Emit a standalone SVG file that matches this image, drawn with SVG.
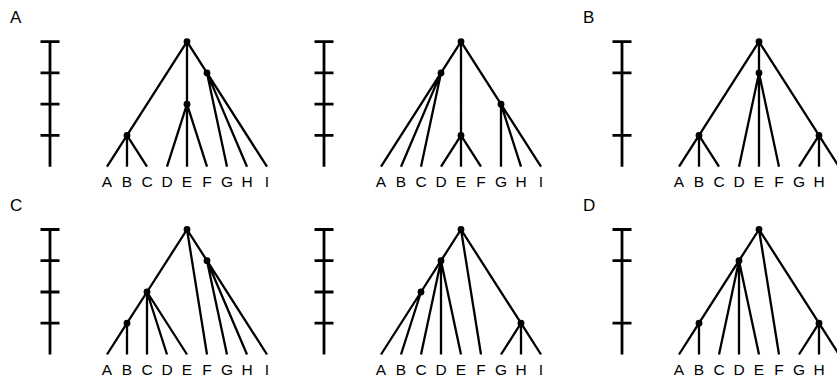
<svg xmlns="http://www.w3.org/2000/svg" width="837" height="381" viewBox="0 0 837 381">
  <style>
    .bar { stroke: #000; stroke-width: 2.8; fill: none; }
    .edge { stroke: #000; stroke-width: 2.3; fill: none; stroke-linecap: butt; }
    .dot { fill: #000; }
    .leaf { font-family: "Liberation Sans", Arial, sans-serif; font-size: 15.5px; fill: #000; text-anchor: middle; }
    .panel-label { font-family: "Liberation Sans", Arial, sans-serif; font-size: 17px; fill: #000; }
  </style>
  <defs>
    <!-- time levels: 41.7, 72.9, 104.2, 135.4, 166.7 ; leaves at x = 107 + 20k -->
    <g id="bar4">
      <path class="bar" d="M50 41.7V166.7M40.5 41.7H59.5M40.5 72.9H59.5M40.5 104.2H59.5M40.5 135.4H59.5"/>
    </g>
    <g id="bar3">
      <path class="bar" d="M50 41.7V166.7M40.5 41.7H59.5M40.5 72.9H59.5M40.5 135.4H59.5"/>
    </g>
    <g id="leaves">
      <text class="leaf" x="107" y="187.3">A</text>
      <text class="leaf" x="127" y="187.3">B</text>
      <text class="leaf" x="147" y="187.3">C</text>
      <text class="leaf" x="167" y="187.3">D</text>
      <text class="leaf" x="187" y="187.3">E</text>
      <text class="leaf" x="207" y="187.3">F</text>
      <text class="leaf" x="227" y="187.3">G</text>
      <text class="leaf" x="247" y="187.3">H</text>
      <text class="leaf" x="267" y="187.3">I</text>
    </g>
    <g id="leaves8">
      <text class="leaf" x="107" y="187.3">A</text>
      <text class="leaf" x="127" y="187.3">B</text>
      <text class="leaf" x="147" y="187.3">C</text>
      <text class="leaf" x="167" y="187.3">D</text>
      <text class="leaf" x="187" y="187.3">E</text>
      <text class="leaf" x="207" y="187.3">F</text>
      <text class="leaf" x="227" y="187.3">G</text>
      <text class="leaf" x="247" y="187.3">H</text>
    </g>
  </defs>

  <!-- Panel A, left tree -->
  <g id="panel-a-left">
    <text class="panel-label" x="10" y="23">A</text>
    <use href="#bar4"/>
    <g id="a1-connectors">
      <path class="edge" d="M187 41.7L127 135.4M187 41.7V104.2M187 41.7L207 72.9"/>
      <path class="edge" d="M127 135.4L107 166.7M127 135.4V166.7M127 135.4L147 166.7"/>
      <path class="edge" d="M187 104.2L167 166.7M187 104.2V166.7M187 104.2L207 166.7"/>
      <path class="edge" d="M207 72.9L227 166.7M207 72.9L247 166.7M207 72.9L267 166.7"/>
    </g>
    <g id="a1-root"><circle class="dot" cx="187" cy="41.7" r="3.4"/></g>
    <g id="a1-abc"><circle class="dot" cx="127" cy="135.4" r="3.4"/></g>
    <g id="a1-def"><circle class="dot" cx="187" cy="104.2" r="3.4"/></g>
    <g id="a1-ghi"><circle class="dot" cx="207" cy="72.9" r="3.4"/></g>
    <use href="#leaves"/>
  </g>

  <!-- Panel A, right tree -->
  <g id="panel-a-right" transform="translate(274 0)">
    <use href="#bar4"/>
    <g id="a2-connectors">
      <path class="edge" d="M187 41.7L167 72.9M187 41.7V135.4M187 41.7L227 104.2"/>
      <path class="edge" d="M167 72.9L107 166.7M167 72.9L127 166.7M167 72.9L147 166.7"/>
      <path class="edge" d="M187 135.4L167 166.7M187 135.4V166.7M187 135.4L207 166.7"/>
      <path class="edge" d="M227 104.2V166.7M227 104.2L247 166.7M227 104.2L267 166.7"/>
    </g>
    <g id="a2-root"><circle class="dot" cx="187" cy="41.7" r="3.4"/></g>
    <g id="a2-abc"><circle class="dot" cx="167" cy="72.9" r="3.4"/></g>
    <g id="a2-def"><circle class="dot" cx="187" cy="135.4" r="3.4"/></g>
    <g id="a2-ghi"><circle class="dot" cx="227" cy="104.2" r="3.4"/></g>
    <use href="#leaves"/>
  </g>

  <!-- Panel B -->
  <g id="panel-b" transform="translate(572 0)">
    <text class="panel-label" x="11" y="23">B</text>
    <use href="#bar3"/>
    <g id="b-connectors">
      <path class="edge" d="M187 41.7L127 135.4M187 41.7V72.9M187 41.7L247 135.4"/>
      <path class="edge" d="M127 135.4L107 166.7M127 135.4V166.7M127 135.4L147 166.7"/>
      <path class="edge" d="M187 72.9L167 166.7M187 72.9V166.7M187 72.9L207 166.7"/>
      <path class="edge" d="M247 135.4L227 166.7M247 135.4V166.7M247 135.4L267 166.7"/>
    </g>
    <g id="b-root"><circle class="dot" cx="187" cy="41.7" r="3.4"/></g>
    <g id="b-abc"><circle class="dot" cx="127" cy="135.4" r="3.4"/></g>
    <g id="b-def"><circle class="dot" cx="187" cy="72.9" r="3.4"/></g>
    <g id="b-ghi"><circle class="dot" cx="247" cy="135.4" r="3.4"/></g>
    <use href="#leaves8"/>
  </g>

  <!-- Panel C, left tree -->
  <g id="panel-c-left" transform="translate(0 187.8)">
    <text class="panel-label" x="10" y="23">C</text>
    <use href="#bar4"/>
    <g id="c1-connectors">
      <path class="edge" d="M187 41.7L147 104.2L127 135.4M187 41.7L207 166.7M187 41.7L207 72.9"/>
      <path class="edge" d="M127 135.4L107 166.7M127 135.4V166.7"/>
      <path class="edge" d="M147 104.2V166.7M147 104.2L167 166.7M147 104.2L187 166.7"/>
      <path class="edge" d="M207 72.9L227 166.7M207 72.9L247 166.7M207 72.9L267 166.7"/>
    </g>
    <g id="c1-root"><circle class="dot" cx="187" cy="41.7" r="3.4"/></g>
    <g id="c1-cde"><circle class="dot" cx="147" cy="104.2" r="3.4"/></g>
    <g id="c1-ab"><circle class="dot" cx="127" cy="135.4" r="3.4"/></g>
    <g id="c1-ghi"><circle class="dot" cx="207" cy="72.9" r="3.4"/></g>
    <use href="#leaves"/>
  </g>

  <!-- Panel C, right tree -->
  <g id="panel-c-right" transform="translate(274 187.8)">
    <use href="#bar4"/>
    <g id="c2-connectors">
      <path class="edge" d="M187 41.7L167 72.9L147 104.2M187 41.7L207 166.7M187 41.7L247 135.4"/>
      <path class="edge" d="M147 104.2L107 166.7M147 104.2L127 166.7"/>
      <path class="edge" d="M167 72.9L147 166.7M167 72.9V166.7M167 72.9L187 166.7"/>
      <path class="edge" d="M247 135.4L227 166.7M247 135.4V166.7M247 135.4L267 166.7"/>
    </g>
    <g id="c2-root"><circle class="dot" cx="187" cy="41.7" r="3.4"/></g>
    <g id="c2-cde"><circle class="dot" cx="167" cy="72.9" r="3.4"/></g>
    <g id="c2-ab"><circle class="dot" cx="147" cy="104.2" r="3.4"/></g>
    <g id="c2-ghi"><circle class="dot" cx="247" cy="135.4" r="3.4"/></g>
    <use href="#leaves"/>
  </g>

  <!-- Panel D -->
  <g id="panel-d" transform="translate(572 187.8)">
    <text class="panel-label" x="11" y="23">D</text>
    <use href="#bar3"/>
    <g id="d-connectors">
      <path class="edge" d="M187 41.7L167 72.9L127 135.4M187 41.7L207 166.7M187 41.7L247 135.4"/>
      <path class="edge" d="M127 135.4L107 166.7M127 135.4V166.7"/>
      <path class="edge" d="M167 72.9L147 166.7M167 72.9V166.7M167 72.9L187 166.7"/>
      <path class="edge" d="M247 135.4L227 166.7M247 135.4V166.7M247 135.4L267 166.7"/>
    </g>
    <g id="d-root"><circle class="dot" cx="187" cy="41.7" r="3.4"/></g>
    <g id="d-cde"><circle class="dot" cx="167" cy="72.9" r="3.4"/></g>
    <g id="d-ab"><circle class="dot" cx="127" cy="135.4" r="3.4"/></g>
    <g id="d-ghi"><circle class="dot" cx="247" cy="135.4" r="3.4"/></g>
    <use href="#leaves8"/>
  </g>
</svg>
